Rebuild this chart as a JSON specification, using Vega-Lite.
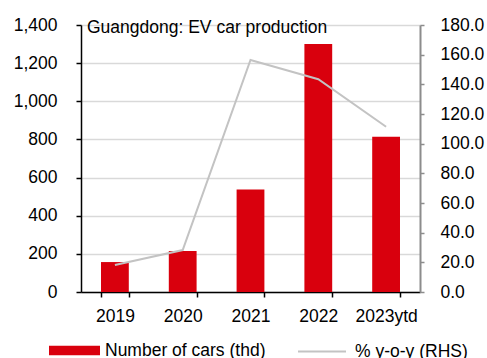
{
  "$schema": "https://vega.github.io/schema/vega-lite/v6.json",
  "autosize": {"type": "none"},
  "padding": {"left": 81, "top": 25, "right": 67, "bottom": 66},
  "width": 339,
  "height": 267,
  "background": "white",
  "config": {
    "font": "Liberation Sans",
    "view": {"stroke": null},
    "axis": {"labelFontSize": 17.5, "labelColor": "black", "labelFont": "Liberation Sans", "title": null},
    "legend": {"labelFontSize": 17.5, "labelColor": "black", "labelFont": "Liberation Sans", "padding": 0, "labelLimit": 0}
  },
  "title": {
    "text": "Guangdong: EV car production",
    "anchor": "start",
    "frame": "group",
    "orient": "top",
    "baseline": "alphabetic",
    "offset": -12,
    "dx": 6,
    "dy": 22.5,
    "fontSize": 17.5,
    "fontWeight": "normal",
    "font": "Liberation Sans",
    "color": "black"
  },
  "data": {
    "values": [
      {"year": "2019", "cars": 157, "yoy": 18.2},
      {"year": "2020", "cars": 215, "yoy": 28.3},
      {"year": "2021", "cars": 538, "yoy": 156.4},
      {"year": "2022", "cars": 1300, "yoy": 143.4},
      {"year": "2023ytd", "cars": 814, "yoy": 111.4}
    ]
  },
  "encoding": {
    "x": {
      "field": "year",
      "type": "nominal",
      "sort": null,
      "scale": {"paddingInner": 0.59, "paddingOuter": 0.295},
      "axis": {
        "labelAngle": 0,
        "tickBand": "extent",
        "domainColor": "black",
        "domainWidth": 1.5,
        "tickColor": "black",
        "tickWidth": 1.5,
        "tickSize": 5,
        "labelPadding": 10,
        "grid": false
      }
    }
  },
  "layer": [
    {
      "mark": {"type": "bar"},
      "encoding": {
        "y": {
          "field": "cars",
          "type": "quantitative",
          "scale": {"domain": [0, 1400], "nice": false},
          "axis": {
            "orient": "left",
            "values": [0, 200, 400, 600, 800, 1000, 1200, 1400],
            "format": ",.0f",
            "domainColor": "black",
            "domainWidth": 1.5,
            "tickColor": "black",
            "tickWidth": 1.5,
            "tickSize": 5,
            "labelPadding": 19,
            "grid": true,
            "gridColor": "#d9d9d9",
            "gridWidth": 1.5
          }
        },
        "fill": {
          "datum": "Number of cars (thd)",
          "scale": {"range": ["#d9000d"]},
          "legend": {
            "title": null,
            "orient": "none",
            "legendX": -32,
            "legendY": 300,
            "symbolType": "M-1,-0.19H1V0.19H-1Z",
            "symbolSize": 2601,
            "symbolStrokeWidth": 0,
            "labelOffset": 5,
            "labelLimit": 0
          }
        }
      }
    },
    {
      "mark": {"type": "line", "strokeWidth": 2},
      "encoding": {
        "y": {
          "field": "yoy",
          "type": "quantitative",
          "scale": {"domain": [0, 180], "nice": false},
          "axis": {
            "orient": "right",
            "values": [0, 20, 40, 60, 80, 100, 120, 140, 160, 180],
            "format": ".1f",
            "domainColor": "#8c8c8c",
            "domainWidth": 2,
            "tickColor": "#8c8c8c",
            "tickWidth": 1.5,
            "tickSize": 4,
            "labelPadding": 16,
            "grid": false
          }
        },
        "stroke": {
          "datum": "% y-o-y (RHS)",
          "scale": {"range": ["#c3c3c3"]},
          "legend": {
            "title": null,
            "orient": "none",
            "legendX": 216,
            "legendY": 301.5,
            "symbolType": "stroke",
            "symbolSize": 2304,
            "symbolStrokeWidth": 2,
            "labelOffset": 8,
            "labelLimit": 0
          }
        }
      }
    }
  ],
  "resolve": {"scale": {"y": "independent"}}
}
